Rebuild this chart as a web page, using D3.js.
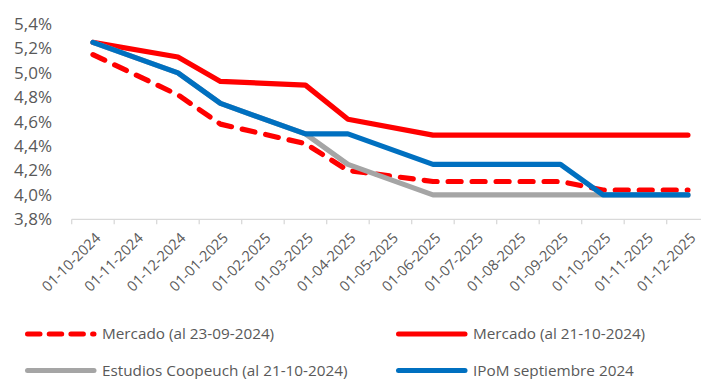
<!DOCTYPE html>
<html>
<head>
<meta charset="utf-8">
<script src="https://cdn.jsdelivr.net/npm/d3@7"></script>
<style>
  html, body { margin: 0; padding: 0; background: #fff; }
  svg { display: block; }
  text { font-family: "Open Sans", "Noto Sans", sans-serif; fill: #595959; }
</style>
</head>
<body>
<svg id="chart" width="701" height="379"></svg>
<script>
// Monthly categories on the x axis
const categories = [
  "01-10-2024", "01-11-2024", "01-12-2024", "01-01-2025", "01-02-2025",
  "01-03-2025", "01-04-2025", "01-05-2025", "01-06-2025", "01-07-2025",
  "01-08-2025", "01-09-2025", "01-10-2025", "01-11-2025", "01-12-2025"
];

// Policy rate paths (%); null = no meeting that month, the line joins the neighbours
const mercado2309 = [5.15, null, 4.82, 4.58, null, 4.42, 4.20, null, 4.11, 4.11, null, 4.11, 4.04, null, 4.04];
const mercado2110 = [5.25, null, 5.13, 4.93, null, 4.90, 4.62, null, 4.49, 4.49, null, 4.49, 4.49, null, 4.49];
const coopeuch    = [5.25, null, 5.00, 4.75, null, 4.50, 4.25, null, 4.00, 4.00, null, 4.00, 4.00, null, 4.00];
const ipom        = [5.25, null, 5.00, 4.75, null, 4.50, 4.50, null, 4.25, 4.25, null, 4.25, 4.00, null, 4.00];

const yTicks = [3.8, 4.0, 4.2, 4.4, 4.6, 4.8, 5.0, 5.2, 5.4];

const seriesList = [
  { name: "Mercado (al 23-09-2024)", values: mercado2309, color: "#ff0000", dash: "13 11", legendDash: "12.5 9.2" },
  { name: "Mercado (al 21-10-2024)", values: mercado2110, color: "#ff0000", dash: null, legendDash: null },
  { name: "Estudios Coopeuch (al 21-10-2024)", values: coopeuch, color: "#a5a5a5", dash: null, legendDash: null },
  { name: "IPoM septiembre 2024", values: ipom, color: "#0070c0", dash: null, legendDash: null }
];

const svg = d3.select("#chart");

const x = d3.scaleBand().domain(categories).range([71.7, 709.2]);
const y = d3.scaleLinear().domain([3.8, 5.4]).range([219.3, 24.1]);

// Y axis labels (no axis line)
const fmt = v => v.toFixed(1).replace(".", ",") + "%";
const yAxis = svg.append("g")
  .attr("transform", "translate(72,0)")
  .call(d3.axisLeft(y).tickValues(yTicks).tickFormat(fmt).tickSize(0).tickPadding(20));
yAxis.select(".domain").remove();
yAxis.selectAll("text")
  .style("font-size", "17px")
  .style("fill", "#595959")
  .style("font-family", "'Open Sans', sans-serif");

// X axis: baseline with tick marks at category boundaries
const xAxisG = svg.append("g").attr("transform", "translate(0,219.3)");
xAxisG.append("line")
  .attr("x1", x.range()[0]).attr("x2", x.range()[1])
  .attr("stroke", "#d9d9d9").attr("stroke-width", 1.3);
xAxisG.selectAll("line.tick")
  .data(categories.concat([null]))
  .join("line")
  .attr("class", "tick")
  .attr("x1", (d, i) => x.range()[0] + i * x.bandwidth())
  .attr("x2", (d, i) => x.range()[0] + i * x.bandwidth())
  .attr("y1", 0).attr("y2", 5)
  .attr("stroke", "#d9d9d9").attr("stroke-width", 1.3);

xAxisG.selectAll("text.xlab")
  .data(categories)
  .join("text")
  .attr("class", "xlab")
  .attr("transform", d => `translate(${x(d) + x.bandwidth() / 2 + 5},${16}) rotate(-45)`)
  .attr("text-anchor", "end")
  .attr("dy", "0.35em")
  .style("font-size", "14.5px")
  .text(d => d);

// Lines: gaps are bridged by connecting the defined points
const line = d3.line()
  .x(d => x(d.cat) + x.bandwidth() / 2)
  .y(d => y(d.v));

seriesList.forEach(s => {
  const pts = categories.map((c, i) => ({ cat: c, v: s.values[i] })).filter(d => d.v != null);
  svg.append("path")
    .datum(pts)
    .attr("d", line)
    .attr("fill", "none")
    .attr("stroke", s.color)
    .attr("stroke-width", 5.2)
    .attr("stroke-linejoin", "round")
    .attr("stroke-linecap", "round")
    .attr("stroke-dasharray", s.dash);
});

// Legend: two columns, two rows
const legendPos = [
  { lx: 25, ly: 334 }, { lx: 396, ly: 334 },
  { lx: 25, ly: 370.5 }, { lx: 396, ly: 370.5 }
];
seriesList.forEach((s, i) => {
  const p = legendPos[i];
  const g = svg.append("g").attr("transform", `translate(${p.lx},${p.ly})`);
  g.append("line")
    .attr("x1", 2.5).attr("x2", 69)
    .attr("stroke", s.color).attr("stroke-width", 5)
    .attr("stroke-linecap", "round")
    .attr("stroke-dasharray", s.legendDash);
  g.append("text")
    .attr("x", 77).attr("dy", "0.35em")
    .style("font-size", "15.3px")
    .text(s.name);
});
</script>
</body>
</html>
